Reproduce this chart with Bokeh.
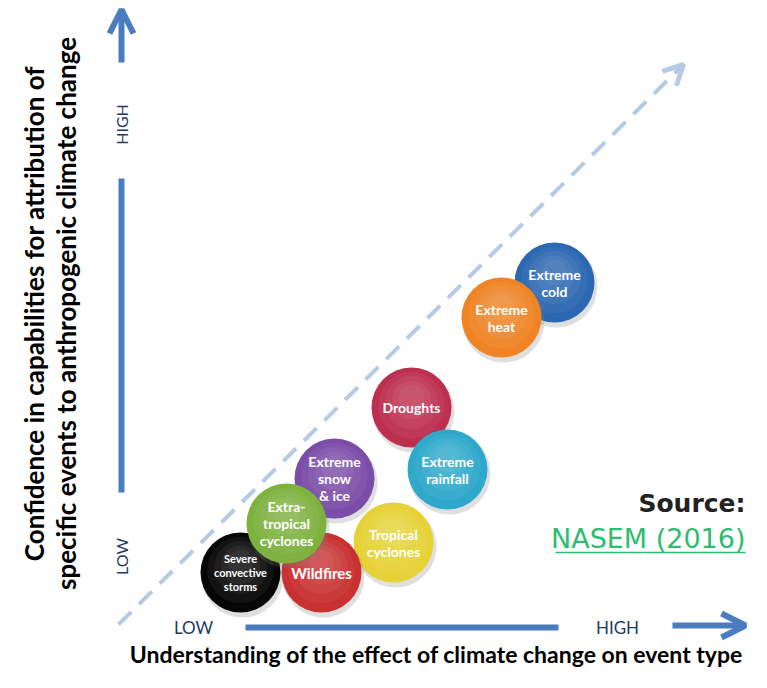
import math
from bokeh.plotting import figure
from bokeh.models import Range1d, Arrow, OpenHead, ColumnDataSource
from bokeh.core.properties import value
from bokeh.embed import file_html
from bokeh.resources import INLINE

# ---- data (positions on a pixel-like conceptual scale) ----
events = ["Extreme cold", "Extreme heat", "Droughts", "Extreme rainfall",
          "Tropical cyclones", "Extreme snow & ice", "Wildfires",
          "Severe convective storms", "Extra-tropical cyclones"]
label_lines = [["Extreme", "cold"], ["Extreme", "heat"], ["Droughts"],
               ["Extreme", "rainfall"], ["Tropical", "cyclones"],
               ["Extreme", "snow", "& ice"], ["Wildfires"],
               ["Severe", "convective", "storms"], ["Extra-", "tropical", "cyclones"]]
understanding = [554, 501, 411, 447, 393, 334, 321, 240, 286]
confidence = [406, 371, 281, 219, 146, 210, 116, 116, 165]
colors = ["#2c67b2", "#ef8424", "#bd2f4f", "#2ea8cb", "#e6d236",
          "#7b4ca8", "#c93030", "#060606", "#7db23f"]
label_sizes = ["14px", "14px", "14px", "14px", "14px", "14px", "15px", "11px", "14px"]

axis_low_high = ["LOW", "HIGH"]
x_title = "Understanding of the effect of climate change on event type"
y_title = ["Confidence in capabilities for attribution of",
           "specific events to anthropogenic climate change"]
source_label = "Source:"
source_ref = "NASEM (2016)"

W, H = 751, 672
p = figure(width=W, height=H, x_range=Range1d(0, 751), y_range=Range1d(16, 688),
           output_backend="svg", toolbar_location=None, min_border=0)
p.axis.visible = False
p.grid.visible = False
p.outline_line_color = None
p.background_fill_color = "white"
p.border_fill_color = "white"

AX = "#4a7dbf"
TXT = "#1f3a64"
R = 40

# dashed diagonal arrow
p.add_layout(Arrow(x_start=118, y_start=64, x_end=683, y_end=624,
                   line_color="#b5cbe5", line_width=4, line_dash="18 11",
                   end=OpenHead(size=20, line_width=5, line_color="#b5cbe5")))

# vertical axis
p.add_layout(Arrow(x_start=121, y_start=626, x_end=121, y_end=679,
                   line_color=AX, line_width=6,
                   end=OpenHead(size=24, line_width=6, line_color=AX)))
p.segment(x0=[121], y0=[196], x1=[121], y1=[510], line_color=AX, line_width=6)
p.text(x=[121, 121], y=[132, 564], text=axis_low_high,
       angle=math.pi / 2, text_align="center", text_baseline="middle",
       text_font=value("Lato"), text_font_size="16px", text_color=TXT)

# horizontal axis
p.add_layout(Arrow(x_start=672, y_start=63, x_end=745, y_end=63,
                   line_color=AX, line_width=6,
                   end=OpenHead(size=24, line_width=6, line_color=AX)))
p.segment(x0=[245], y0=[61], x1=[558], y1=[61], line_color=AX, line_width=6)
p.text(x=[193, 617], y=[61, 61], text=axis_low_high,
       text_align="center", text_baseline="middle",
       text_font=value("Lato"), text_font_size="17px", text_color=TXT)

# circles with shading
for i in range(len(events)):
    cx, cy, col = understanding[i], confidence[i], colors[i]
    p.circle(x=[cx + 2], y=[cy - 4], radius=R + 1, fill_color="#808080",
             fill_alpha=0.25, line_color=None)
    p.circle(x=[cx], y=[cy], radius=R, fill_color=col, line_color=None)
    for k in range(1, 5):
        p.circle(x=[cx], y=[cy + 2.5 * k], radius=R * (1 - 0.17 * k),
                 fill_color="white", fill_alpha=0.05, line_color=None)
    lines = label_lines[i]
    n = len(lines)
    lh = 17 if label_sizes[i] != "11px" else 14
    src = ColumnDataSource(dict(
        x=[cx] * n, y=[cy] * n, t=lines,
        yo=[(j - (n - 1) / 2) * lh for j in range(n)]))
    p.text(x="x", y="y", text="t", y_offset="yo", source=src,
           text_align="center", text_baseline="middle",
           text_font=value("Lato"), text_font_style="bold",
           text_font_size=label_sizes[i], text_color="white")

# axis titles
p.text(x=[436], y=[35], text=[x_title], text_align="center", text_baseline="middle",
       text_font=value("Lato"), text_font_style="bold", text_font_size="23px",
       text_color="black")
p.text(x=[33, 65], y=[375, 375], text=y_title, angle=math.pi / 2,
       text_align="center", text_baseline="middle",
       text_font=value("Lato"), text_font_style="bold", text_font_size="26px",
       text_color="black")

# source
p.text(x=[745], y=[185], text=[source_label], text_align="right",
       text_baseline="middle", text_font=value("DejaVu Sans"),
       text_font_style="bold", text_font_size="25px", text_color="#222222")
p.text(x=[745], y=[150], text=[source_ref], text_align="right",
       text_baseline="middle", text_font=value("DejaVu Sans"),
       text_font_size="27px", text_color="#2dbd6e")
p.segment(x0=[555], y0=[136], x1=[745], y1=[136], line_color="#2dbd6e", line_width=1.5)

open("out.html", "w").write(file_html(p, INLINE))
